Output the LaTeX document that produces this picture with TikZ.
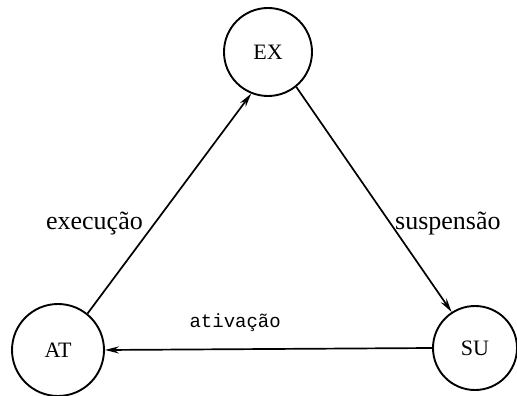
\documentclass[tikz,border=0pt]{standalone}
\usepackage{fontspec}
\setmainfont{Liberation Serif}
\newfontfamily\monofam{Liberation Mono}
\usetikzlibrary{arrows.meta}
\begin{document}
\begin{tikzpicture}[x=1pt,y=-1pt,
  state/.style={circle,draw,line width=1.9pt,minimum size=88pt,inner sep=0pt,font=\fontsize{22}{26}\selectfont},
  trans/.style={line width=1.7pt,-{Stealth[length=14pt,width=7pt]}},
  lbl/.style={font=\fontsize{26}{30}\selectfont,inner sep=0pt},
  mlbl/.style={font=\monofam\fontsize{19}{23}\selectfont,inner sep=0pt}]
\useasboundingbox (0,0) rectangle (517,396);
\node[state] (EX) at (268,52) {EX};
\node[state, minimum size=92pt] (AT) at (58,350) {AT};
\node[state, minimum size=84pt] (SU) at (475,348) {SU};
\draw[trans] (AT.51) -- (EX.248);
\draw[trans] (EX.309) -- (SU.123);
\draw[trans] (SU.west) -- (AT.east);
\node[lbl,anchor=base east] (l1) at (143,229) {execução};
\node[lbl,anchor=base west] (l2) at (395,229) {suspensão};
\node[mlbl,anchor=base east] (l3) at (281,327) {ativação};
\end{tikzpicture}
\end{document}
